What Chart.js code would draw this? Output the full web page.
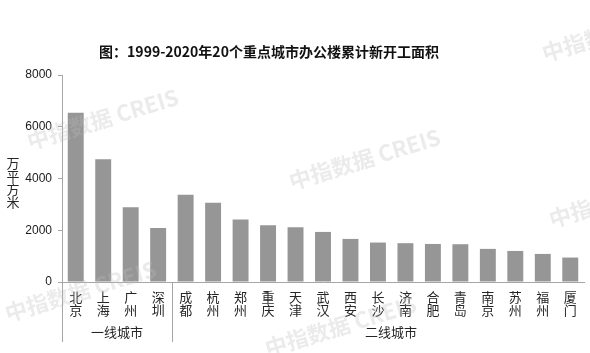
<!DOCTYPE html>
<html>
<head>
<meta charset="utf-8">
<script src="https://cdn.jsdelivr.net/npm/chart.js@4"></script>
<style>
html,body{margin:0;padding:0;background:#fff}
#wrap{width:590px;height:353px;position:relative}
</style>
</head>
<body>
<div id="wrap"><canvas id="c"></canvas></div>
<script>
const title="图：1999-2020年20个重点城市办公楼累计新开工面积"
const yTitle="万平方米"
const cities=["北京","上海","广州","深圳","成都","杭州","郑州","重庆","天津","武汉","西安","长沙","济南","合肥","青岛","南京","苏州","福州","厦门"]
const groups=["一线城市","二线城市"]
const groupSizes=[4,15]
const area=[6540,4740,2890,2090,3375,3060,2415,2195,2115,1935,1665,1525,1500,1470,1460,1280,1200,1085,945]
const yTicks=[0,2000,4000,6000,8000]
const watermark="中指数据 CREIS"

const FONT="Arial, 'Liberation Sans', 'Noto Sans CJK SC', sans-serif"
const AXIS="#a6a6a6"

const extras={
id:"extras",
beforeDatasetsDraw(chart){
const ctx=chart.ctx
ctx.save()
// title
ctx.fillStyle="#111"
ctx.font="bold 14px 'Noto Sans CJK SC', sans-serif"
ctx.textAlign="center"
ctx.textBaseline="middle"
ctx.fillText(title,269,52)
// y axis title, stacked
ctx.font="13px 'Noto Sans CJK SC', sans-serif"
ctx.fillStyle="#262626"
yTitle.split("").forEach((ch,i)=>ctx.fillText(ch,13,163+i*13))
ctx.restore()
},
afterDraw(chart){
const ctx=chart.ctx
const x=chart.scales.x
const area_=chart.chartArea
const half=(x.getPixelForValue(1)-x.getPixelForValue(0))/2
ctx.save()
ctx.strokeStyle=AXIS
ctx.lineWidth=1
let start=0
ctx.font="13px 'Noto Sans CJK SC', sans-serif"
ctx.fillStyle="#262626"
ctx.textAlign="center"
ctx.textBaseline="middle"
groups.forEach((g,gi)=>{
const left=x.getPixelForValue(start)-half
ctx.beginPath()
ctx.moveTo(Math.round(left)+0.5,area_.bottom)
ctx.lineTo(Math.round(left)+0.5,342)
ctx.stroke()
const end=start+groupSizes[gi]-1
let cx=(x.getPixelForValue(start)+x.getPixelForValue(end))/2
if(gi==1) cx+=13
ctx.fillText(g,cx,332)
start+=groupSizes[gi]
})
// watermarks
ctx.fillStyle="rgba(190,190,190,0.3)"
ctx.font="bold 22px 'Noto Sans CJK SC', sans-serif"
ctx.textAlign="left"
ctx.textBaseline="alphabetic"
const marks=[[30,150],[292,190],[8,322],[268,357],[545,62],[552,228]]
marks.forEach(m=>{
ctx.save()
ctx.translate(m[0],m[1])
ctx.rotate(-17*Math.PI/180)
ctx.fillText(watermark,0,0)
ctx.restore()
})
ctx.restore()
}
}

new Chart(document.getElementById("c"),{
type:"bar",
data:{
labels:cities.map(c=>c.split("")),
datasets:[{data:area,backgroundColor:"#969696",barPercentage:0.58,categoryPercentage:1}]
},
options:{
responsive:true,
maintainAspectRatio:false,
animation:false,
layout:{padding:{top:75,right:6,bottom:0,left:0}},
plugins:{legend:{display:false},tooltip:{enabled:false},title:{display:false}},
scales:{
x:{
grid:{display:false,drawTicks:false},
border:{color:AXIS},
ticks:{color:"#262626",font:{family:"'Noto Sans CJK SC', sans-serif",size:13,lineHeight:1},padding:9,maxRotation:0,autoSkip:false},
afterFit(s){s.height=71}
},
y:{
min:0,max:8000,
afterBuildTicks(s){s.ticks=yTicks.map(v=>({value:v}))},
grid:{drawOnChartArea:false,drawTicks:true,tickLength:4,color:AXIS},
border:{color:AXIS},
ticks:{color:"#1a1a1a",font:{family:FONT,size:12},padding:6,callback:v=>String(v)},
afterFit(s){s.width=62}
}
}
},
plugins:[extras]
})
</script>
</body>
</html>
